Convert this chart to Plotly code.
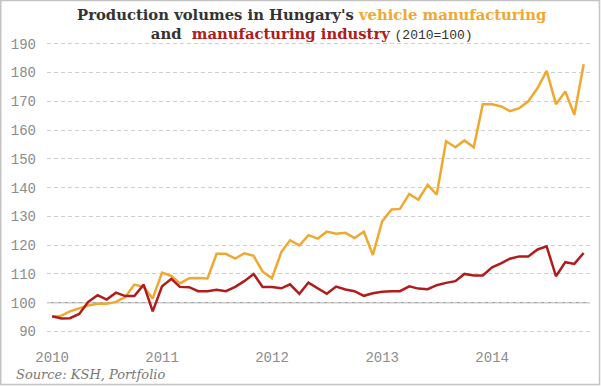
import pandas as pd
import plotly.graph_objects as go

months = pd.date_range("2010-01-01", periods=59, freq="MS")

vehicle = [95, 95.5, 97, 98, 99, 99.6, 99.6, 100.3, 102, 106.3, 105.5, 101.5,
           110.5, 109.3, 106.7, 108.5, 108.6, 108.4, 117, 117, 115.3, 117.2, 116.3, 110.8,
           108.5, 117.6, 121.7, 119.9, 123.5, 122.3, 124.7, 124, 124.3, 122.5, 124.7, 116.6,
           128.3, 132.4, 132.6, 137.8, 135.8, 141, 137.6, 156.1, 154, 156.4, 154, 169,
           169, 168.2, 166.6, 167.6, 170, 174.6, 180.6, 169, 173.4, 165.3, 182.9]

manufacturing = [95.3, 94.5, 94.6, 96.1, 100.3, 102.6, 101.1, 103.5, 102.3, 102.3, 106.3, 97,
                 105.7, 108.3, 105.5, 105.4, 104, 104, 104.5, 104, 105.5, 107.5, 110, 105.5,
                 105.5, 105, 106.4, 103.1, 107, 105, 103.1, 105.6, 104.6, 104, 102.4, 103.3,
                 103.8, 104, 104, 105.7, 104.9, 104.7, 106.1, 106.9, 107.5, 110, 109.5, 109.5,
                 112.3, 113.8, 115.3, 116.1, 116.1, 118.5, 119.6, 109.2, 114.1, 113.5, 117.3]

year_ticks = ["2010-01-01", "2011-01-01", "2012-01-01", "2013-01-01", "2014-01-01"]
year_labels = ["2010", "2011", "2012", "2013", "2014"]
y_ticks = [90, 100, 110, 120, 130, 140, 150, 160, 170, 180, 190]

YELLOW = "#F0A830"
RED = "#B01C1C"

fig = go.Figure()
fig.add_trace(go.Scatter(x=months, y=vehicle, mode="lines",
                         line=dict(color=YELLOW, width=2.5), name="vehicle manufacturing"))
fig.add_trace(go.Scatter(x=months, y=manufacturing, mode="lines",
                         line=dict(color=RED, width=2.5), name="manufacturing industry"))

ml, mr, mt, mb = 47, 11, 38, 43
W, H = 601, 386
pw, ph = W - ml - mr, H - mt - mb

fig.add_shape(type="line", xref="paper", yref="y", x0=0, x1=1, y0=100, y1=100,
              line=dict(color="#8a8a8a", width=1), layer="below")


def px2x(px):
    return (px - ml) / pw


def py2y(py):
    return (H - mb - py) / ph


# outer border
fig.add_shape(type="rect", xref="paper", yref="paper",
              x0=px2x(0.75), x1=px2x(599.5), y0=py2y(384.5), y1=py2y(0.5),
              line=dict(color="#c4c4c4", width=1.5), fillcolor="rgba(0,0,0,0)")

title = ("<b>Production volumes in Hungary's <span style='color:%s'>vehicle manufacturing</span><br>"
         "and  <span style='color:%s'>manufacturing industry</span></b>"
         " <span style='font-family:Liberation Mono;font-size:13px'>(2010=100)</span>") % (YELLOW, RED)

fig.add_annotation(text=title, xref="paper", yref="paper", x=px2x(311), y=py2y(4),
                   xanchor="center", yanchor="top", showarrow=False, align="center",
                   font=dict(family="DejaVu Serif", size=14.8, color="#333333"))

fig.add_annotation(text="<i>Source: KSH, Portfolio</i>", xref="paper", yref="paper",
                   x=px2x(14), y=py2y(374), xanchor="left", yanchor="middle", showarrow=False,
                   font=dict(family="DejaVu Serif", size=13, color="#777777"))

fig.update_layout(
    width=W, height=H,
    margin=dict(l=ml, r=mr, t=mt, b=mb),
    paper_bgcolor="white", plot_bgcolor="white",
    showlegend=False,
    xaxis=dict(range=["2009-12-15", "2014-11-22"], tickvals=year_ticks, ticktext=year_labels,
               showgrid=False, zeroline=False, showline=False, ticks="",
               ticklabelstandoff=4,
               tickfont=dict(family="Liberation Mono", size=14, color="#8c8c8c")),
    yaxis=dict(range=[86, 192], tickvals=y_ticks, showgrid=True, gridcolor="#cfcfcf",
               griddash="4px,3px", gridwidth=1, zeroline=False, showline=False, ticks="",
               ticklabelstandoff=10,
               tickfont=dict(family="Liberation Mono", size=14, color="#8c8c8c")),
)

fig.write_html("out.html", config={"displayModeBar": False},
               post_script="document.body.style.margin='0';document.body.style.overflow='hidden';")
